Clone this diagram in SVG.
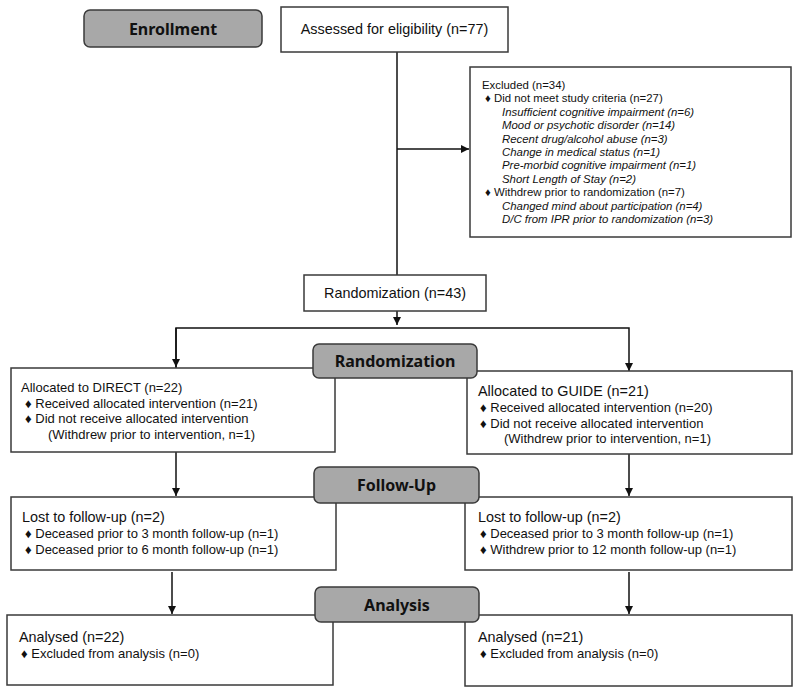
<svg xmlns="http://www.w3.org/2000/svg" width="800" height="693" viewBox="0 0 800 693">
<style>
.box{fill:#fff;stroke:#3a3a3a;stroke-width:1.5}
.lab{fill:#a8a8a8;stroke:#3a3a3a;stroke-width:1.5}
.lt{font-family:"Noto Sans","Open Sans",sans-serif;font-weight:bold;font-size:16px;fill:#111;text-anchor:middle}
.t{font-family:"Liberation Sans",Arial,sans-serif;fill:#111}
.h{font-size:14.4px}
.b{font-size:13px}
.s{font-size:11.4px}
.i{font-style:italic}
.c{fill:none;stroke:#111;stroke-width:1.5}
</style>
<defs>
<marker id="ah" viewBox="0 0 10 10" refX="10" refY="5" markerWidth="8" markerHeight="8" markerUnits="userSpaceOnUse" orient="auto">
<path d="M0,0 L10,5 L0,10 z" fill="#111"/>
</marker>
</defs>
<g id="connectors">
<line class="c" x1="397" y1="52" x2="397" y2="275"/>
<line class="c" x1="397" y1="149" x2="469" y2="149" marker-end="url(#ah)"/>
<line class="c" x1="397" y1="311" x2="397" y2="325" marker-end="url(#ah)"/>
<polyline class="c" points="176,368 176,328 629,328 629,371" marker-end="url(#ah)"/>
<line class="c" x1="176" y1="328" x2="176" y2="367" marker-end="url(#ah)"/>
<line class="c" x1="176" y1="452" x2="176" y2="496" marker-end="url(#ah)"/>
<line class="c" x1="629" y1="454" x2="629" y2="496" marker-end="url(#ah)"/>
<line class="c" x1="172" y1="572" x2="172" y2="614" marker-end="url(#ah)"/>
<line class="c" x1="629" y1="572" x2="629" y2="614" marker-end="url(#ah)"/>
</g>
<g id="assessed">
<rect class="box" x="281" y="7" width="227" height="45"/>
<text class="t h" x="394.5" y="34" text-anchor="middle">Assessed for eligibility (n=77)</text>
</g>
<g id="excluded">
<rect class="box" x="470" y="67" width="321" height="170"/>
<text class="t s" x="482" y="89">Excluded (n=34)</text>
<text class="t s" x="485" y="102.4">♦ Did not meet study criteria (n=27)</text>
<text class="t s i" x="502" y="115.8">Insufficient cognitive impairment (n=6)</text>
<text class="t s i" x="502" y="129.2">Mood or psychotic disorder (n=14)</text>
<text class="t s i" x="502" y="142.6">Recent drug/alcohol abuse (n=3)</text>
<text class="t s i" x="502" y="156">Change in medical status (n=1)</text>
<text class="t s i" x="502" y="169.4">Pre-morbid cognitive impairment (n=1)</text>
<text class="t s i" x="502" y="182.8">Short Length of Stay (n=2)</text>
<text class="t s" x="485" y="196.2">♦ Withdrew prior to randomization (n=7)</text>
<text class="t s i" x="502" y="209.6">Changed mind about participation (n=4)</text>
<text class="t s i" x="502" y="223">D/C from IPR prior to randomization (n=3)</text>
</g>
<g id="randomization-box">
<rect class="box" x="304" y="275" width="182" height="36"/>
<text class="t h" x="395" y="298" text-anchor="middle">Randomization (n=43)</text>
</g>
<g id="alloc-direct">
<rect class="box" x="11" y="368" width="324" height="84"/>
<text class="t b" x="21" y="392">Allocated to DIRECT (n=22)</text>
<text class="t b" x="25" y="408">♦ Received allocated intervention (n=21)</text>
<text class="t b" x="25" y="423">♦ Did not receive allocated intervention</text>
<text class="t b" x="48" y="439">(Withdrew prior to intervention, n=1)</text>
</g>
<g id="alloc-guide">
<rect class="box" x="467" y="371" width="325" height="83"/>
<text class="t h" x="478" y="396">Allocated to GUIDE (n=21)</text>
<text class="t b" x="480" y="412">♦ Received allocated intervention (n=20)</text>
<text class="t b" x="480" y="428">♦ Did not receive allocated intervention</text>
<text class="t b" x="504" y="443">(Withdrew prior to intervention, n=1)</text>
</g>
<g id="followup-direct">
<rect class="box" x="11" y="497" width="325" height="73"/>
<text class="t h" x="22" y="522">Lost to follow-up (n=2)</text>
<text class="t b" x="25" y="538">♦ Deceased prior to 3 month follow-up (n=1)</text>
<text class="t b" x="25" y="554">♦ Deceased prior to 6 month follow-up (n=1)</text>
</g>
<g id="followup-guide">
<rect class="box" x="465" y="497" width="327" height="73"/>
<text class="t h" x="478" y="522">Lost to follow-up (n=2)</text>
<text class="t b" x="480" y="538">♦ Deceased prior to 3 month follow-up (n=1)</text>
<text class="t b" x="480" y="554">♦ Withdrew prior to 12 month follow-up (n=1)</text>
</g>
<g id="analysis-direct">
<rect class="box" x="7" y="615" width="326" height="70"/>
<text class="t h" x="19" y="642">Analysed (n=22)</text>
<text class="t b" x="21" y="658">♦ Excluded from analysis (n=0)</text>
</g>
<g id="analysis-guide">
<rect class="box" x="465" y="615" width="327" height="71"/>
<text class="t h" x="478" y="642">Analysed (n=21)</text>
<text class="t b" x="480" y="658">♦ Excluded from analysis (n=0)</text>
</g>
<g id="label-enrollment">
<rect class="lab" x="84" y="10" width="178" height="37" rx="6"/>
<text class="lt" x="173" y="35">Enrollment</text>
</g>
<g id="label-randomization">
<rect class="lab" x="313" y="344" width="164" height="34" rx="6"/>
<text class="lt" x="395" y="367">Randomization</text>
</g>
<g id="label-followup">
<rect class="lab" x="314" y="467" width="165" height="36" rx="6"/>
<text class="lt" x="396.5" y="491">Follow-Up</text>
</g>
<g id="label-analysis">
<rect class="lab" x="315" y="587" width="164" height="35" rx="6"/>
<text class="lt" x="397" y="611">Analysis</text>
</g>
</svg>
